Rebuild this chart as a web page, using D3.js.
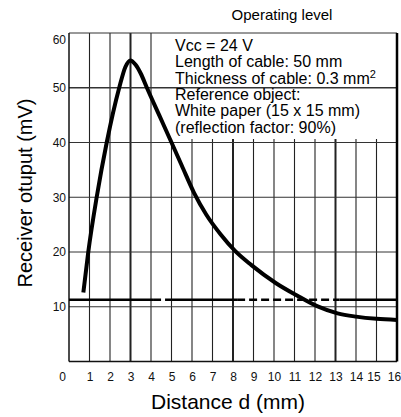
<!DOCTYPE html>
<html><head><meta charset="utf-8">
<script src="https://cdn.jsdelivr.net/npm/d3@7"></script>
<style>
html,body{margin:0;padding:0;background:#fff;}
svg{display:block;font-family:"Liberation Sans",Arial,Helvetica,sans-serif;}
</style></head>
<body>
<svg id="chart" width="401" height="417"></svg>
<script>
// ---- data ----
const distance = [0.7, 0.94, 1.35, 1.84, 2.45, 2.75, 3.0, 3.25, 3.5, 3.8, 4.4, 5.0, 5.5, 6.1, 6.7, 7.4, 8.1, 8.9, 10.1, 11.1, 12.1, 13.1, 14.0, 15.0, 16.0];
const output   = [12.6, 20, 30, 40, 50, 53.8, 55, 54.2, 52.6, 50, 45, 40, 35.8, 30.8, 26.8, 23.2, 20.2, 17.6, 14.3, 12.1, 10.1, 8.8, 8.2, 7.8, 7.6];
const xTicks = d3.range(0, 17);
const yTicks = [10, 20, 30, 40, 50, 60];
const operatingLevel = 11.3;
// operating-level line pieces: [from, to, dashed]
const levelPieces = [[0, 4.1, false], [4.1, 5.0, true], [5.0, 8.2, false], [8.2, 13.2, true], [13.2, 16, false]];
const legendLines = ["Vcc = 24 V", "Length of cable: 50 mm", "Thickness of cable: 0.3 mm", "Reference object:", "White paper (15 x 15 mm)", "(reflection factor: 90%)"];
const thickVerticals = [3, 8, 13];

// ---- layout ----
const svg = d3.select("#chart");
const x = d3.scaleLinear().domain([0, 16]).range([69, 397]);
const y = d3.scaleLinear().domain([0, 60]).range([361.5, 33]);

// vertical grid lines
svg.append("g").selectAll("line").data(xTicks.slice(1, 16)).join("line")
  .attr("x1", d => x(d)).attr("x2", d => x(d))
  .attr("y1", y(0)).attr("y2", y(60))
  .attr("stroke", "#222")
  .attr("stroke-width", d => thickVerticals.includes(d) ? 2 : 1.1);

// white legend box hiding grid
svg.append("rect").attr("x", 165).attr("y", y(60)).attr("width", x(16) - 165).attr("height", 139 - y(60)).attr("fill", "#fff");

// horizontal grid lines
svg.append("g").selectAll("line").data(yTicks.slice(0, 5)).join("line")
  .attr("x1", x(0)).attr("x2", x(16))
  .attr("y1", d => y(d)).attr("y2", d => y(d))
  .attr("stroke", "#333")
  .attr("stroke-width", d => d === 50 ? 1.3 : 1);

// frame
svg.append("line").attr("x1", x(0)).attr("x2", x(16)).attr("y1", y(60)).attr("y2", y(60)).attr("stroke", "#333").attr("stroke-width", 1);
svg.append("line").attr("x1", x(0)).attr("x2", x(16)).attr("y1", y(0)).attr("y2", y(0)).attr("stroke", "#111").attr("stroke-width", 1.5);
svg.append("line").attr("x1", x(0)).attr("x2", x(0)).attr("y1", y(0)).attr("y2", y(60)).attr("stroke", "#111").attr("stroke-width", 1.5);
svg.append("line").attr("x1", x(16)).attr("x2", x(16)).attr("y1", y(0)).attr("y2", y(60)).attr("stroke", "#000").attr("stroke-width", 2.5);

// operating level line
svg.append("g").selectAll("line").data(levelPieces).join("line")
  .attr("x1", d => x(d[0])).attr("x2", d => x(d[1]))
  .attr("y1", y(operatingLevel)).attr("y2", y(operatingLevel))
  .attr("stroke", "#000").attr("stroke-width", 2.5)
  .attr("stroke-dasharray", d => d[2] ? "8,4" : null);

// curve
const line = d3.line().x((d, i) => x(distance[i])).y(d => y(d)).curve(d3.curveMonotoneX);
svg.append("path").attr("d", line(output)).attr("fill", "none")
  .attr("stroke", "#000").attr("stroke-width", 4).attr("stroke-linejoin", "round");

// axes
const xAxis = svg.append("g").attr("transform", `translate(0,${y(0)})`)
  .call(d3.axisBottom(x).tickValues(xTicks).tickSize(0).tickPadding(11).tickFormat(d3.format("d")));
xAxis.select(".domain").remove();
xAxis.selectAll("text").attr("font-size", 12).attr("fill", "#111").attr("font-family", null)
  .attr("dx", d => d === 0 ? -7 : d === 15 ? -3 : d === 16 ? -3 : 0);

const yAxis = svg.append("g").attr("transform", `translate(${x(0)},0)`)
  .call(d3.axisLeft(y).tickValues(yTicks).tickSize(0).tickPadding(3).tickFormat(d3.format("d")));
yAxis.select(".domain").remove();
yAxis.selectAll("text").attr("font-size", 12).attr("fill", "#111").attr("font-family", null)
  .attr("dy", d => d === 60 ? "0.9em" : "0.32em");

// legend text
const leg = svg.append("text").attr("font-size", 16).attr("fill", "#000");
legendLines.forEach((t, i) => {
  leg.append("tspan").attr("x", 175).attr("y", 51 + i * 16.3).text(t);
  if (i === 2) {
    leg.append("tspan").attr("dy", -6).attr("font-size", 11).text("2");
  }
});

// labels
svg.append("text").attr("x", 282).attr("y", 20).attr("text-anchor", "middle").attr("font-size", 15).text("Operating level");
svg.append("text").attr("x", 228).attr("y", 409).attr("text-anchor", "middle").attr("font-size", 21).text("Distance d (mm)");
svg.append("text").attr("transform", "translate(32,193) rotate(-90)").attr("text-anchor", "middle").attr("font-size", 20).text("Receiver otuput (mV)");
</script>
</body></html>
